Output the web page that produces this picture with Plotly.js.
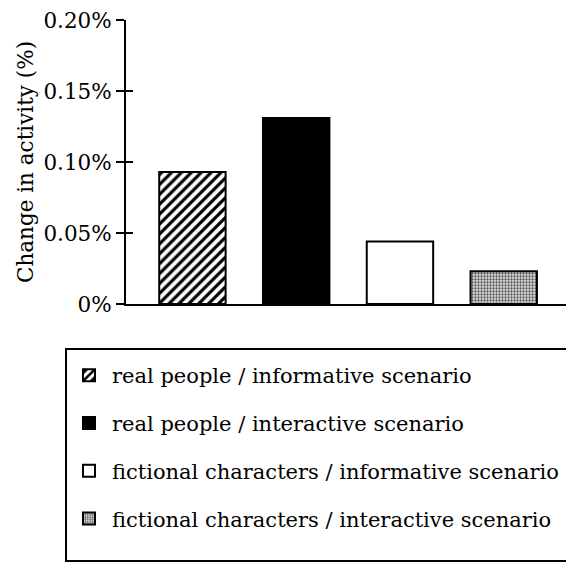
<!DOCTYPE html>
<html><head><meta charset="utf-8">
<script src="https://cdn.plot.ly/plotly-3.0.1.min.js"></script>
<style>html,body{margin:0;padding:0;background:#fff}</style>
</head><body><div id="chart" style="width:566px;height:562px"></div>
<script>
// ---- data ----
const categories = [
  "real people / informative scenario",
  "real people / interactive scenario",
  "fictional characters / informative scenario",
  "fictional characters / interactive scenario"
];
const values = [0.093, 0.131, 0.044, 0.023];
const yTickVals = [0, 0.05, 0.10, 0.15, 0.20];
const yTickText = ["0%", "0.05%", "0.10%", "0.15%", "0.20%"];
const yTitle = "Change in activity (%)";

// ---- styles ----
const FONT = "DejaVu Serif, serif";
const FS = 21.5;
const LFS = 21;
const styles = [
  {color:"#fff", pattern:{shape:"/", size:7, solidity:0.45, fgcolor:"#000", bgcolor:"#fff", fillmode:"replace"}},
  {color:"#000", pattern:{shape:""}},
  {color:"#fff", pattern:{shape:""}},
  {color:"#c8c8c8", pattern:{shape:".", size:3, solidity:0.45, fgcolor:"#555", bgcolor:"#e0e0e0", fillmode:"replace"}}
];

const traces = categories.map((c, i) => ({
  type: "bar",
  x: [i],
  y: [values[i]],
  name: c,
  width: 0.64,
  legendgroup: "g" + i,
  hoverinfo: "skip",
  marker: {color: styles[i].color, pattern: styles[i].pattern, line: {color: "#000", width: 2}}
}));
traces.push({type:"scatter", x:[null], y:[null], yaxis:"y2", showlegend:false, hoverinfo:"skip"});

// plot area pixel geometry
const L = 126, R = 0, T = 20, B = 258, W = 566, H = 562;
const pw = W - L - R, ph = H - T - B;
const px = v => (v - L) / pw;
const py = v => (H - B - v) / ph;

const layout = {
  width: W, height: H,
  margin: {l: L, r: R, t: T, b: B, pad: 0},
  paper_bgcolor: "#fff", plot_bgcolor: "#fff",
  font: {family: FONT, size: FS, color: "#000"},
  barmode: "overlay",
  showlegend: true,
  xaxis: {range: [-0.64, 3.6], showticklabels: false, ticks: "", showgrid: false, zeroline: false,
          showline: true, linewidth: 2, linecolor: "#000", fixedrange: true},
  yaxis: {range: [0, 0.2], tickmode: "array", tickvals: yTickVals, ticktext: yTickText,
          ticks: "outside", ticklen: 8, tickwidth: 2, tickcolor: "#000",
          showline: true, linewidth: 2, linecolor: "#000", showgrid: false, zeroline: false,
          tickfont: {family: FONT, size: FS, color: "#000"},
          title: {text: yTitle, font: {family: FONT, size: FS, color: "#000"}, standoff: 4}},
  yaxis2: {range: [0, 0.2], overlaying: "y", side: "left", tickmode: "array", tickvals: yTickVals,
           ticks: "inside", ticklen: 7, tickwidth: 2, tickcolor: "#000", showticklabels: false,
           showline: false, showgrid: false, zeroline: false},
  legend: {x: px(66), y: py(355), xanchor: "left", yanchor: "top", orientation: "v",
           traceorder: "grouped", tracegroupgap: 17.5, itemwidth: 36, bgcolor: "rgba(0,0,0,0)", borderwidth: 0,
           font: {family: FONT, size: LFS, color: "#000"}},
  shapes: [{type: "rect", xref: "paper", yref: "paper", x0: px(66), x1: px(580), y0: py(561), y1: py(349),
            line: {color: "#000", width: 2}, fillcolor: "rgba(0,0,0,0)"}]
};

Plotly.newPlot("chart", traces, layout, {displayModeBar: false, staticPlot: true});
</script></body></html>
